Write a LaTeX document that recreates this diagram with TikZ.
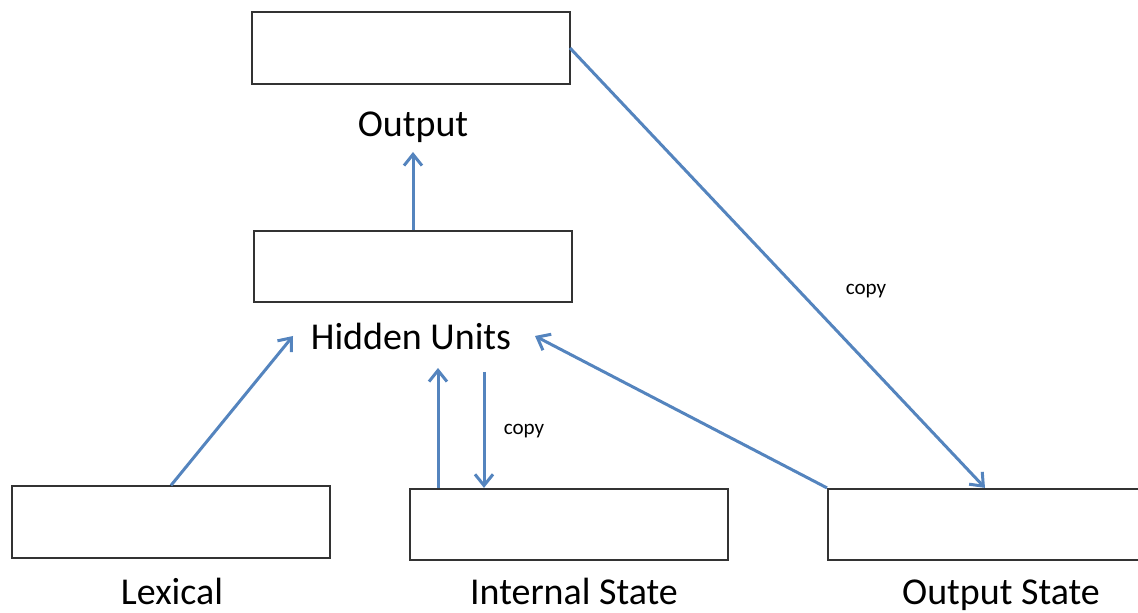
\documentclass[tikz,border=0pt]{standalone}
\usepackage{fontspec}
\setmainfont{Carlito}
\usetikzlibrary{arrows.meta}
\definecolor{linkblue}{RGB}{84,132,190}
\tikzset{
  unitbox/.style={draw=black!80, line width=0.05cm, minimum width=7.95cm, minimum height=1.78cm, inner sep=0pt},
  unitlbl/.style={font=\fontsize{27}{31}\selectfont, inner sep=0pt, anchor=base},
  copylbl/.style={font=\fontsize{15}{18}\selectfont, inner sep=0pt, anchor=base},
  link/.style={draw=linkblue, line width=0.075cm, -{Straight Barb[length=0.28cm, width=0.45cm, line width=0.075cm]}}
}
\begin{document}
\begin{tikzpicture}
            \useasboundingbox (0,0) rectangle (28.450000,15.325000);
            \clip (0,0) rectangle (28.450000,15.325000);

            % Boxes of the network
            \node [unitbox] (outbox) at (10.262500,14.125000) {};%
            \node [unitbox] (hidbox) at (10.312500,8.662500) {};%
            \node [unitbox] (lexbox) at (4.275000,2.275000) {};%
            \node [unitbox] (intbox) at (14.212500,2.212500) {};%
            \node [unitbox] (ostbox) at (24.675000,2.212500) {};%

            % Names below the boxes
            \node [unitlbl] (outlbl) at (10.325000,11.900000) {Output};%
            \node [unitlbl] (hidlbl) at (10.275000,6.575000) {Hidden Units};%
            \node [unitlbl] (lexlbl) at (4.300000,0.200000) {Lexical};%
            \node [unitlbl] (intlbl) at (14.350000,0.200000) {Internal State};%
            \node [unitlbl] (ostlbl) at (25.025000,0.200000) {Output State};%

            % Free ends of the connectors
            \coordinate (outin) at (10.325000,11.525000);%
            \coordinate (hidinlex) at (7.325000,6.925000);%
            \coordinate (hidinint) at (10.950000,6.125000);%
            \coordinate (intcopy) at (12.100000,6.025000);%
            \coordinate (hidinost) at (13.375000,6.925000);%
            \coordinate (outcopy) at (14.250000,14.125000);%

            % Drawing feed-forward links
            \draw [link] (hidbox.north -| outin) -- (outin);%
            \draw [link] (lexbox.north) -- (hidinlex);%
            \draw [link] (intbox.north -| hidinint) -- (hidinint);%
            \draw [link] (ostbox.north west) -- (hidinost);%

            % Drawing copy links
            \draw [link] (intcopy) -- (intbox.north -| intcopy);%
            \draw [link] (outcopy) -- ([xshift=-0.05cm]ostbox.north);%
            \node [copylbl] (copyint) at (13.100000,4.450000) {copy};%
            \node [copylbl] (copyout) at (21.650000,7.950000) {copy};%
        \end{tikzpicture}
\end{document}
